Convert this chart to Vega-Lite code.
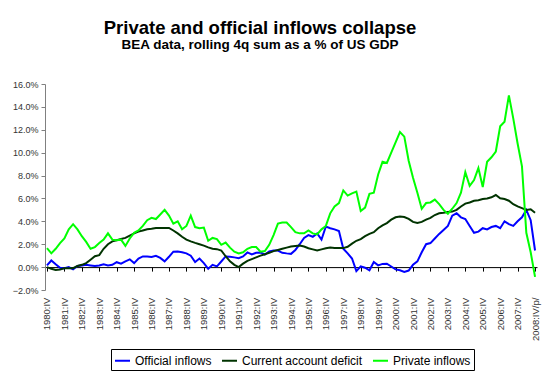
{
 "$schema": "https://vega.github.io/schema/vega-lite/v6.json",
 "width": 492, "height": 206,
 "autosize": {"type": "none"},
 "padding": {"left": 45, "top": 84, "right": 10, "bottom": 84},
 "background": "white",
 "config": {"view": {"stroke": null}, "font": "Liberation Sans"},
 "title": {"text": "Private and official inflows collapse", "subtitle": "BEA data, rolling 4q sum as a % of US GDP", "fontSize": 18.5, "fontWeight": "bold", "subtitleFontSize": 13.5, "subtitleFontWeight": "bold", "color": "#000", "subtitleColor": "#000", "anchor": "middle", "dx": -31, "offset": 29, "subtitlePadding": 0, "font": "Liberation Sans", "subtitleFont": "Liberation Sans"},
 "data": {"values": [
{"q":"1980:IV","official":0.15,"current":0.0,"private":1.65},
{"q":"1981:I","official":0.58,"current":-0.15,"private":1.2},
{"q":"1981:II","official":0.25,"current":-0.25,"private":1.6},
{"q":"1981:III","official":-0.05,"current":-0.2,"private":2.1},
{"q":"1981:IV","official":-0.1,"current":-0.1,"private":2.5},
{"q":"1982:I","official":0.0,"current":-0.1,"private":3.3},
{"q":"1982:II","official":-0.2,"current":-0.1,"private":3.75},
{"q":"1982:III","official":0.1,"current":0.1,"private":3.3},
{"q":"1982:IV","official":0.15,"current":0.2,"private":2.7},
{"q":"1983:I","official":0.2,"current":0.35,"private":2.2},
{"q":"1983:II","official":0.15,"current":0.65,"private":1.6},
{"q":"1983:III","official":0.1,"current":0.95,"private":1.75},
{"q":"1983:IV","official":0.15,"current":1.05,"private":2.1},
{"q":"1984:I","official":0.25,"current":1.6,"private":2.4},
{"q":"1984:II","official":0.15,"current":2.0,"private":2.95},
{"q":"1984:III","official":0.2,"current":2.25,"private":2.4},
{"q":"1984:IV","official":0.43,"current":2.35,"private":2.35},
{"q":"1985:I","official":0.3,"current":2.45,"private":2.4},
{"q":"1985:II","official":0.5,"current":2.55,"private":1.85},
{"q":"1985:III","official":0.68,"current":2.75,"private":2.5},
{"q":"1985:IV","official":0.35,"current":2.95,"private":3.0},
{"q":"1986:I","official":0.75,"current":3.1,"private":3.2},
{"q":"1986:II","official":0.93,"current":3.2,"private":3.6},
{"q":"1986:III","official":0.93,"current":3.3,"private":4.1},
{"q":"1986:IV","official":0.88,"current":3.35,"private":4.3},
{"q":"1987:I","official":0.98,"current":3.42,"private":4.2},
{"q":"1987:II","official":0.8,"current":3.42,"private":4.6},
{"q":"1987:III","official":0.5,"current":3.42,"private":5.0},
{"q":"1987:IV","official":0.9,"current":3.42,"private":4.5},
{"q":"1988:I","official":1.35,"current":3.2,"private":3.8},
{"q":"1988:II","official":1.36,"current":2.95,"private":4.0},
{"q":"1988:III","official":1.3,"current":2.65,"private":3.3},
{"q":"1988:IV","official":1.2,"current":2.4,"private":3.6},
{"q":"1989:I","official":1.0,"current":2.25,"private":4.5},
{"q":"1989:II","official":0.45,"current":2.12,"private":3.5},
{"q":"1989:III","official":0.75,"current":2.0,"private":3.4},
{"q":"1989:IV","official":0.35,"current":1.88,"private":3.45},
{"q":"1990:I","official":-0.15,"current":1.72,"private":2.3},
{"q":"1990:II","official":0.2,"current":1.6,"private":2.55},
{"q":"1990:III","official":0.06,"current":1.57,"private":2.45},
{"q":"1990:IV","official":0.49,"current":1.45,"private":1.95},
{"q":"1991:I","official":0.93,"current":0.95,"private":2.15},
{"q":"1991:II","official":0.9,"current":0.5,"private":1.7},
{"q":"1991:III","official":0.85,"current":0.2,"private":1.35},
{"q":"1991:IV","official":0.78,"current":0.0,"private":1.2},
{"q":"1992:I","official":0.93,"current":0.3,"private":1.3},
{"q":"1992:II","official":1.28,"current":0.55,"private":1.6},
{"q":"1992:III","official":1.1,"current":0.7,"private":1.75},
{"q":"1992:IV","official":1.25,"current":0.85,"private":1.75},
{"q":"1993:I","official":1.28,"current":1.0,"private":1.35},
{"q":"1993:II","official":1.1,"current":1.12,"private":1.4},
{"q":"1993:III","official":1.38,"current":1.25,"private":1.95},
{"q":"1993:IV","official":1.45,"current":1.4,"private":2.8},
{"q":"1994:I","official":1.45,"current":1.5,"private":3.8},
{"q":"1994:II","official":1.25,"current":1.6,"private":3.9},
{"q":"1994:III","official":1.2,"current":1.7,"private":3.9},
{"q":"1994:IV","official":1.16,"current":1.8,"private":3.5},
{"q":"1995:I","official":1.5,"current":1.85,"private":3.05},
{"q":"1995:II","official":2.0,"current":1.88,"private":2.95},
{"q":"1995:III","official":2.55,"current":1.8,"private":2.95},
{"q":"1995:IV","official":2.8,"current":1.65,"private":3.2},
{"q":"1996:I","official":2.65,"current":1.55,"private":2.95},
{"q":"1996:II","official":2.95,"current":1.45,"private":2.85},
{"q":"1996:III","official":2.4,"current":1.55,"private":3.3},
{"q":"1996:IV","official":3.55,"current":1.65,"private":3.6},
{"q":"1997:I","official":3.4,"current":1.72,"private":4.7},
{"q":"1997:II","official":3.3,"current":1.68,"private":5.3},
{"q":"1997:III","official":3.15,"current":1.66,"private":5.6},
{"q":"1997:IV","official":1.6,"current":1.66,"private":6.7},
{"q":"1998:I","official":1.2,"current":1.78,"private":6.25},
{"q":"1998:II","official":0.75,"current":2.05,"private":6.45},
{"q":"1998:III","official":-0.35,"current":2.3,"private":6.6},
{"q":"1998:IV","official":0.06,"current":2.45,"private":4.9},
{"q":"1999:I","official":-0.05,"current":2.7,"private":5.2},
{"q":"1999:II","official":-0.28,"current":2.9,"private":6.4},
{"q":"1999:III","official":0.45,"current":3.05,"private":6.5},
{"q":"1999:IV","official":0.15,"current":3.4,"private":8.1},
{"q":"2000:I","official":0.28,"current":3.65,"private":9.2},
{"q":"2000:II","official":0.3,"current":3.85,"private":9.1},
{"q":"2000:III","official":0.05,"current":4.15,"private":10.0},
{"q":"2000:IV","official":-0.2,"current":4.35,"private":10.9},
{"q":"2001:I","official":-0.28,"current":4.42,"private":11.8},
{"q":"2001:II","official":-0.42,"current":4.38,"private":11.4},
{"q":"2001:III","official":-0.3,"current":4.22,"private":9.3},
{"q":"2001:IV","official":0.2,"current":3.95,"private":7.8},
{"q":"2002:I","official":0.5,"current":3.85,"private":6.5},
{"q":"2002:II","official":1.3,"current":3.95,"private":5.1},
{"q":"2002:III","official":2.0,"current":4.15,"private":5.6},
{"q":"2002:IV","official":2.1,"current":4.3,"private":5.65},
{"q":"2003:I","official":2.5,"current":4.55,"private":5.9},
{"q":"2003:II","official":2.9,"current":4.7,"private":5.5},
{"q":"2003:III","official":3.25,"current":4.75,"private":5.0},
{"q":"2003:IV","official":3.6,"current":4.82,"private":4.65},
{"q":"2004:I","official":4.5,"current":4.85,"private":5.1},
{"q":"2004:II","official":4.7,"current":5.0,"private":5.6},
{"q":"2004:III","official":4.35,"current":5.3,"private":6.5},
{"q":"2004:IV","official":4.2,"current":5.55,"private":8.3},
{"q":"2005:I","official":3.6,"current":5.65,"private":7.1},
{"q":"2005:II","official":3.0,"current":5.8,"private":7.6},
{"q":"2005:III","official":3.1,"current":5.85,"private":8.65},
{"q":"2005:IV","official":3.4,"current":5.95,"private":7.0},
{"q":"2006:I","official":3.3,"current":6.0,"private":9.2},
{"q":"2006:II","official":3.5,"current":6.1,"private":9.6},
{"q":"2006:III","official":3.6,"current":6.3,"private":10.1},
{"q":"2006:IV","official":3.4,"current":6.02,"private":12.3},
{"q":"2007:I","official":4.0,"current":5.95,"private":12.7},
{"q":"2007:II","official":3.75,"current":5.8,"private":15.0},
{"q":"2007:III","official":3.6,"current":5.5,"private":13.0},
{"q":"2007:IV","official":4.0,"current":5.3,"private":10.8},
{"q":"2008:I","official":4.35,"current":5.15,"private":8.8},
{"q":"2008:II","official":5.0,"current":5.0,"private":3.0},
{"q":"2008:III","official":4.1,"current":5.05,"private":1.3},
{"q":"2008:IV/p/","official":1.45,"current":4.75,"private":-0.85}
 ]},
 "transform": [{"fold": ["official", "current", "private"], "as": ["series", "value"]}],
 "mark": {"type": "line", "strokeWidth": 2},
 "encoding": {
  "x": {"field": "q", "type": "ordinal", "sort": null, "scale": {"type": "point", "padding": 0.45},
   "axis": {"values": ["1980:IV","1981:IV","1982:IV","1983:IV","1984:IV","1985:IV","1986:IV","1987:IV","1988:IV","1989:IV","1990:IV","1991:IV","1992:IV","1993:IV","1994:IV","1995:IV","1996:IV","1997:IV","1998:IV","1999:IV","2000:IV","2001:IV","2002:IV","2003:IV","2004:IV","2005:IV","2006:IV","2007:IV","2008:IV/p/"],
    "offset": -22.9, "domainColor": "#000", "domainWidth": 1, "tickColor": "#000", "tickSize": 4, "labelAngle": 270, "labelPadding": 26, "labelFontSize": 9.5, "labelColor": "#333", "labelOverlap": false, "labelBound": false, "title": null, "grid": false}},
  "y": {"field": "value", "type": "quantitative", "scale": {"domain": [-2, 16], "nice": false, "zero": false},
   "axis": {"values": [-2,0,2,4,6,8,10,12,14,16], "labelExpr": "format(datum.value,'.1f')+'%'", "domainColor": "#808080", "tickColor": "#808080", "tickSize": 4, "labelFontSize": 9, "labelColor": "#333", "labelPadding": 3, "title": null, "grid": false}},
  "color": {"field": "series", "type": "nominal", "scale": {"domain": ["official", "current", "private"], "range": ["#0000FF", "#003300", "#00FF00"]},
   "legend": {"orient": "none", "legendX": 66, "legendY": 265, "direction": "horizontal", "title": null, "symbolType": "stroke", "symbolSize": 225, "symbolStrokeWidth": 2, "labelFontSize": 12, "labelColor": "#000", "labelOffset": 4, "columnPadding": 6, "padding": 3, "strokeColor": "#000", "fillColor": "#fff", "labelExpr": "datum.value=='official'?'Official inflows':datum.value=='current'?'Current account deficit':'Private inflows'"}}
 }
}
